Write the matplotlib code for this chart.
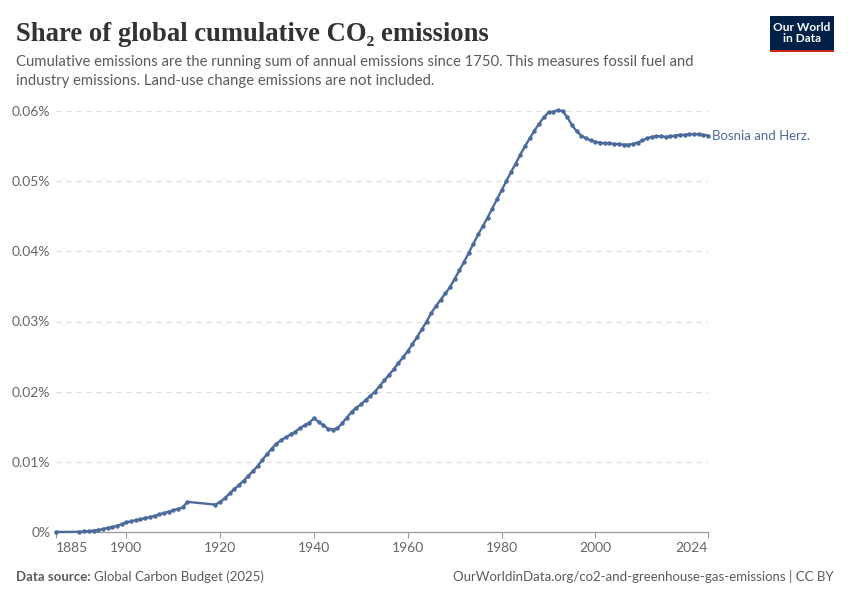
import matplotlib as mpl
mpl.use('Agg')
import matplotlib.pyplot as plt
from matplotlib.patches import Rectangle

# share of global cumulative CO2 (in %)
Years = [1885] + list(range(1890, 1914)) + list(range(1919, 2025))
Share = [
	0.0,
	# 1890-1913
	0.00003, 0.00008, 0.00012, 0.0002, 0.0003, 0.0004, 0.0006, 0.0007, 0.0009, 0.0011,
	0.0014, 0.0015, 0.0017, 0.0018, 0.0020, 0.0021, 0.0023, 0.0025, 0.0027, 0.0029,
	0.0031, 0.0033, 0.0035, 0.0043,
	# 1919-1930
	0.0039, 0.0043, 0.0048, 0.0055, 0.0061, 0.0067, 0.0073, 0.0080, 0.0087, 0.0094,
	0.0103, 0.0111,
	# 1931-1950
	0.0119, 0.0126, 0.0131, 0.0135, 0.0139, 0.0143, 0.0148, 0.0152, 0.0156, 0.0162,
	0.0157, 0.0152, 0.0147, 0.0146, 0.0148, 0.0155, 0.0163, 0.0171, 0.0177, 0.0182,
	# 1951-1970
	0.0188, 0.0194, 0.0200, 0.0208, 0.0216, 0.0224, 0.0232, 0.0241, 0.0249, 0.0258,
	0.0268, 0.0278, 0.0289, 0.0300, 0.0312, 0.0322, 0.0331, 0.0340, 0.0349, 0.0361,
	# 1971-1990
	0.0373, 0.0385, 0.0398, 0.0411, 0.0424, 0.0436, 0.0448, 0.0461, 0.0474, 0.0487,
	0.0500, 0.0513, 0.0525, 0.0538, 0.0550, 0.0561, 0.0572, 0.0582, 0.0591, 0.0598,
	# 1991-2010
	0.0599, 0.0601, 0.0600, 0.0591, 0.0580, 0.0571, 0.0565, 0.0561, 0.0558, 0.0556,
	0.0555, 0.0554, 0.0554, 0.0553, 0.0553, 0.0552, 0.0552, 0.0553, 0.0555, 0.0558,
	# 2011-2024
	0.0561, 0.0563, 0.0564, 0.0564, 0.0563, 0.0564, 0.0565, 0.0566, 0.0566, 0.0567,
	0.0567, 0.0567, 0.0566, 0.0565,
]
Country = "Bosnia and Herz."
XTicks = [1885, 1900, 1920, 1940, 1960, 1980, 2000, 2024]
YTicks = [0, 0.01, 0.02, 0.03, 0.04, 0.05, 0.06]
YTickLabels = ["0%", "0.01%", "0.02%", "0.03%", "0.04%", "0.05%", "0.06%"]

LineColor = '#4c6a9c'
TextGrey = '#5b5b5b'
TickGrey = '#666666'

plt.rcParams['font.family'] = ['Lato', 'DejaVu Sans']

Fig = plt.figure(figsize=(8.5, 6), dpi=100)
Axe = Fig.add_axes([56 / 850, 68 / 600, 652 / 850, 421 / 600])

Axe.plot(Years, Share, color=LineColor, lw=1.7, marker='o', ms=3.2,
	markeredgewidth=0, clip_on=False, zorder=3)

Axe.set_xlim(1885, 2024)
Axe.set_ylim(0, 0.06)

for Side in ['top', 'right', 'left']:
	Axe.spines[Side].set_visible(False)
Axe.spines['bottom'].set_color('#999999')
Axe.spines['bottom'].set_linewidth(0.9)

Axe.set_yticks(YTicks)
Axe.set_yticklabels(YTickLabels)
Axe.tick_params(axis='y', length=0, pad=4, labelsize=10, labelcolor=TickGrey)
Axe.yaxis.grid(True, ls=(0, (4, 4)), color='#dddddd', lw=0.9)
Axe.set_axisbelow(True)

Axe.set_xticks(XTicks)
Axe.set_xticklabels([str(Y) for Y in XTicks])
Axe.tick_params(axis='x', length=4, color='#999999', pad=3, labelsize=10, labelcolor=TickGrey)
Labels = Axe.get_xticklabels()
Labels[0].set_ha('left')
Labels[-1].set_ha('right')

# grid line at 0 hidden behind axis
Axe.yaxis.get_gridlines()[0].set_visible(False)

Axe.text(Years[-1] + 0.8, Share[-1], Country, color=LineColor, fontsize=9.5,
	va='center', ha='left')

# header
Fig.text(16 / 850, 1 - 41 / 600, "Share of global cumulative CO₂ emissions",
	family=['Liberation Serif', 'DejaVu Serif'], weight='bold', fontsize=19.2,
	color='#333333', va='baseline')
Fig.text(16 / 850, 1 - 66 / 600,
	"Cumulative emissions are the running sum of annual emissions since 1750. This measures fossil fuel and",
	fontsize=10.7, color=TextGrey, va='baseline')
Fig.text(16 / 850, 1 - 85 / 600,
	"industry emissions. Land-use change emissions are not included.",
	fontsize=10.7, color=TextGrey, va='baseline')

# logo
Fig.patches.append(Rectangle((770 / 850, 1 - 50 / 600), 64 / 850, 34 / 600,
	transform=Fig.transFigure, facecolor='#002147', edgecolor='none'))
Fig.patches.append(Rectangle((770 / 850, 1 - 52 / 600), 64 / 850, 2.5 / 600,
	transform=Fig.transFigure, facecolor='#ce261e', edgecolor='none'))
Fig.text(802 / 850, 1 - 33 / 600, "Our World\nin Data", color='white', fontsize=8.6,
	ha='center', va='center', linespacing=1.0, weight='bold')

# footer
Fig.text(16 / 850, 1 - 581 / 600, "Data source: ", fontsize=9.5, color=TextGrey,
	weight='bold', va='baseline')
Fig.text(94 / 850, 1 - 581 / 600, "Global Carbon Budget (2025)", fontsize=9.5,
	color=TextGrey, va='baseline')
Fig.text(834 / 850, 1 - 581 / 600,
	"OurWorldinData.org/co2-and-greenhouse-gas-emissions | CC BY",
	fontsize=9.5, color=TextGrey, va='baseline', ha='right')

plt.savefig("out.png", dpi=100)
